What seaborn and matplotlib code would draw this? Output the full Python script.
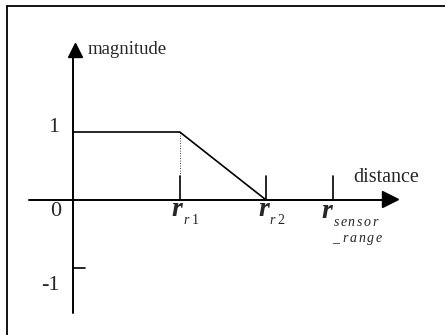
import matplotlib
matplotlib.use("Agg")
import matplotlib.pyplot as plt
import seaborn as sns
import pandas as pd

# ---- data (schematic magnitude vs distance) ----
distance = [0.0, 1.57, 2.84, 3.82]          # 0, r_r1, r_r2, r_sensor_range
magnitude = [1.0, 1.0, 0.0, 0.0]
tick_positions = [1.57, 2.84, 3.82]
tick_subscripts = [r"$r$ 1", r"$r$ 2", r"$s\,e\,n\,s\,o\,r$"]
y_tick_values = [1, -1]
y_tick_labels = ["1", "-1"]

sns.set_style("white")
plt.rcParams["font.family"] = ["Liberation Serif", "DejaVu Serif"]
plt.rcParams["mathtext.fontset"] = "custom"
plt.rcParams["mathtext.rm"] = "Liberation Serif"
plt.rcParams["mathtext.it"] = "Liberation Serif:italic"

PX = 68.0  # pixels per data unit; origin at pixel (73, 200)

fig = plt.figure(figsize=(4.45, 3.35), dpi=100)
ax = fig.add_axes([0, 0, 1, 1])
ax.set_axis_off()
ax.set_xlim(-73 / PX, (445 - 73) / PX)
ax.set_ylim((200 - 335) / PX, 200 / PX)

df = pd.DataFrame({"distance": distance, "magnitude": magnitude})
sns.lineplot(data=df, x="distance", y="magnitude", ax=ax, color="black",
             lw=1.2, sort=False, legend=False)

# axes with arrowheads
ax.plot([-44 / PX, 309 / PX], [0, 0], color="black", lw=1.4)
ax.plot([0, 0], [-113 / PX, 144 / PX], color="black", lw=1.4)
ax.plot([317 / PX], [1 / PX], marker=">", color="black", markersize=11.5)
ax.plot([2 / PX], [150.5 / PX], marker="^", color="black", markersize=9.5)

# ticks on x axis
for xp in tick_positions:
    ax.plot([xp, xp], [0, 0.36], color="black", lw=1.2)
# dotted guide at r_r1
ax.plot([tick_positions[0]] * 2, [0.36, 1.0], color="black", lw=0.6,
        linestyle=(0, (1, 2)))
# -1 tick
ax.plot([0, 12 / PX], [-1, -1], color="black", lw=1.2)

# numeric labels
ax.text(-17 / PX, -12 / PX, "0", fontsize=16, ha="center", va="center")
for v, lab in zip(y_tick_values, y_tick_labels):
    ax.text(-19 / PX if v > 0 else -23 / PX, v + (4 / PX if v > 0 else -17 / PX),
            lab, fontsize=16, ha="center", va="center")

# r labels: big italic r with small italic subscript placed to its right
for xp, sub in zip(tick_positions, tick_subscripts):
    far = xp > 3.5
    big_base = (-18 if far else -16) / PX
    sub_base = (-26 if far else -24) / PX
    ax.text(xp - (11 if far else 8) / PX, big_base, "r", fontsize=20,
            style="italic", weight="bold", ha="left", va="baseline")
    ax.text(xp + (0 if far else 3) / PX, sub_base, sub,
            fontsize=10, ha="left", va="baseline")
ax.text(3.82 - 1 / PX, -42 / PX, r"_ $r\,a\,n\,g\,e$", fontsize=10,
        ha="left", va="baseline")

ax.text(15 / PX, 151 / PX, "magnitude", fontsize=13.5, ha="left", va="center")
ax.text(280 / PX, 23 / PX, "distance", fontsize=14.5, ha="left", va="center")

# outer frame (left and top edges)
fig.add_artist(plt.Line2D([7 / 445, 7 / 445], [0, 1 - 6 / 335],
                          color="black", lw=1.3))
fig.add_artist(plt.Line2D([7 / 445, 1], [1 - 6 / 335, 1 - 6 / 335],
                          color="black", lw=1.3))

fig.savefig("out.png", dpi=100)
